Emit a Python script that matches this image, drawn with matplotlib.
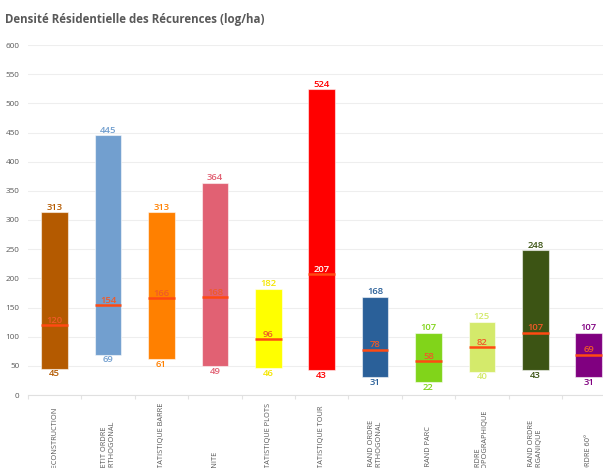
import matplotlib
matplotlib.use("Agg")
import matplotlib.pyplot as plt
from matplotlib.transforms import blended_transform_factory, offset_copy

plt.rcParams['font.family'] = ['Open Sans', 'DejaVu Sans']

categories = ["RECONSTRUCTION", "PETIT ORDRE\nORTHOGONAL", "STATISTIQUE BARRE", "UNITE",
              "STATISTIQUE PLOTS", "STATISTIQUE TOUR", "GRAND ORDRE\nORTHOGONAL", "GRAND PARC",
              "ORDRE\nTOPOGRAPHIQUE", "GRAND ORDRE\nORGANIQUE", "ORDRE 60°"]
mins = [45, 69, 61, 49, 46, 43, 31, 22, 40, 43, 31]
maxs = [313, 445, 313, 364, 182, 524, 168, 107, 125, 248, 107]
meds = [120, 154, 166, 168, 96, 207, 78, 58, 82, 107, 69]
colors = ["#B45A00", "#729FCF", "#FF8000", "#E16173", "#FFFF00", "#FF0000",
          "#2A6099", "#81D41A", "#D4EA6B", "#3C5414", "#800080"]
label_colors = ["#B45A00", "#729FCF", "#FF8000", "#E16173", "#F5E600", "#FF0000",
                "#2A6099", "#81D41A", "#D4EA6B", "#3C5414", "#800080"]
med_label_colors = ["#F05A28", "#F05A28", "#F05A28", "#F05A28", "#F05A28", "#FFFFFF",
                    "#F05A28", "#F05A28", "#F05A28", "#F05A28", "#F05A28"]
yticks = [0, 50, 100, 150, 200, 250, 300, 350, 400, 450, 500, 550, 600]
title = "Densité Résidentielle des Récurences (log/ha)"

W, H = 603, 468
fig = plt.figure(figsize=(W / 100, H / 100), dpi=100)
fig.patch.set_facecolor("white")
ax = fig.add_axes([28 / W, (H - 395) / H, 587.4 / W, 350 / H])

x = list(range(len(categories)))
heights = [mx - mn for mn, mx in zip(mins, maxs)]
ax.bar(x, heights, bottom=mins, width=0.5, color=colors,
       edgecolor=(1, 1, 1, 0.55), linewidth=0.8, zorder=3)
ax.hlines(meds, [i - 0.25 for i in x], [i + 0.25 for i in x],
          colors="#FF4A12", linewidth=1.8, zorder=4)

for i in x:
    ax.text(i, maxs[i], str(maxs[i]), ha="center", va="bottom", fontsize=6.8,
            fontweight="semibold", color=label_colors[i],
            transform=offset_copy(ax.transData, fig=fig, y=0.5, units="points"), zorder=5)
    ax.text(i, mins[i], str(mins[i]), ha="center", va="top", fontsize=6.8,
            fontweight="semibold", color=label_colors[i],
            transform=offset_copy(ax.transData, fig=fig, y=-0.5, units="points"), zorder=5)
    ax.text(i, meds[i], str(meds[i]), ha="center", va="bottom", fontsize=6.8,
            fontweight="semibold", color=med_label_colors[i],
            transform=offset_copy(ax.transData, fig=fig, y=0.2, units="points"), zorder=5)

ax.set_xlim(-0.5, len(categories) - 0.5)
ax.set_ylim(0, 600)
ax.set_yticks(yticks)
ax.set_yticklabels([str(v) for v in yticks], fontsize=5.9, color="#595959")
ax.tick_params(axis="y", length=0, pad=6)
ax.grid(axis="y", color="#EEEEEE", linewidth=0.8, zorder=0)
ax.set_xticks([i - 0.5 for i in range(len(categories) + 1)])
ax.set_xticklabels([])
ax.tick_params(axis="x", length=3, color="#E3E3E3", width=0.8)
for s in ["top", "right", "left"]:
    ax.spines[s].set_visible(False)
ax.spines["bottom"].set_color("#E0E0E0")
ax.spines["bottom"].set_linewidth(0.8)
ax.set_axisbelow(True)

tr = blended_transform_factory(ax.transData, fig.transFigure)
for i, c in enumerate(categories):
    ax.text(i, (H - 472) / H, c, rotation=90, ha="center", va="bottom",
            multialignment="left", fontsize=5.3, color="#595959",
            transform=tr, clip_on=False, linespacing=1.2)

fig.text(5 / W, (H - 23) / H, title, fontsize=8.3, fontweight="bold",
         color="#595959", ha="left", va="baseline")

fig.savefig("out.png", dpi=100)
